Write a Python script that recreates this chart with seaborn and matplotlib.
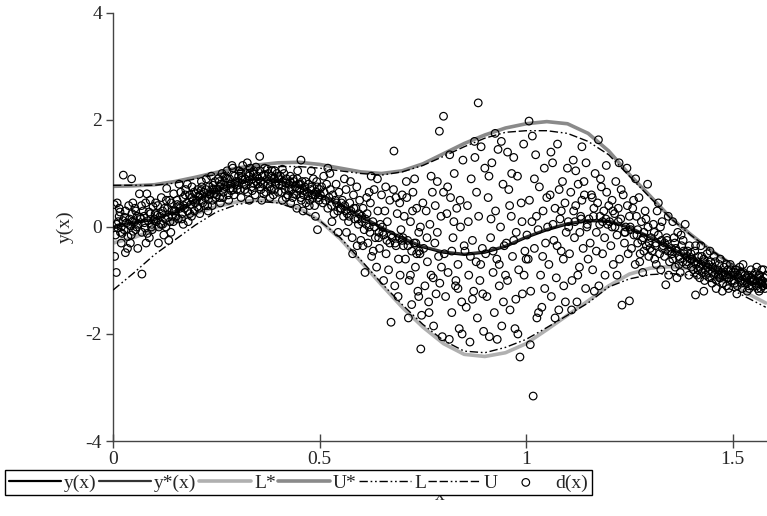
import matplotlib
matplotlib.use("Agg")
import matplotlib.pyplot as plt
import seaborn as sns
import pandas as pd

# ---------------- curve data ----------------
curve_x = [0.0, 0.05, 0.1, 0.15, 0.2, 0.25, 0.3, 0.35, 0.4, 0.45, 0.5, 0.55, 0.6, 0.65,
           0.7, 0.75, 0.8, 0.85, 0.9, 0.95, 1.0, 1.05, 1.1, 1.15, 1.2, 1.25, 1.3, 1.35,
           1.4, 1.45, 1.5, 1.55, 1.58]
y_true = [0.0, 0.08, 0.13, 0.28, 0.48, 0.67, 0.83, 0.9, 0.86, 0.74, 0.6, 0.42, 0.2, -0.02,
          -0.22, -0.38, -0.48, -0.52, -0.48, -0.37, -0.2, -0.06, 0.05, 0.11, 0.1, -0.02, -0.2, -0.4,
          -0.6, -0.77, -0.92, -1.05, -1.12]
y_est = [-0.03, 0.1, 0.15, 0.3, 0.5, 0.69, 0.84, 0.91, 0.87, 0.75, 0.61, 0.43, 0.21, 0.0,
         -0.2, -0.36, -0.46, -0.5, -0.46, -0.35, -0.18, -0.04, 0.07, 0.13, 0.12, 0.0, -0.18, -0.38,
         -0.58, -0.75, -0.9, -1.03, -1.1]
L_star = [-0.3, -0.2, -0.05, 0.1, 0.25, 0.38, 0.47, 0.5, 0.47, 0.35, 0.12, -0.22, -0.65, -1.08,
          -1.5, -1.87, -2.18, -2.38, -2.42, -2.35, -2.18, -1.92, -1.65, -1.38, -1.1, -0.88, -0.77, -0.74,
          -0.78, -0.92, -1.1, -1.3, -1.42]
U_star = [0.76, 0.77, 0.79, 0.85, 0.93, 1.02, 1.1, 1.16, 1.2, 1.21, 1.17, 1.1, 1.03, 1.0,
          1.05, 1.18, 1.37, 1.56, 1.72, 1.85, 1.93, 1.97, 1.93, 1.75, 1.42, 0.98, 0.58, 0.17,
          -0.15, -0.45, -0.71, -0.93, -1.05]
L_bound = [-1.18, -0.86, -0.52, -0.24, 0.04, 0.28, 0.42, 0.48, 0.45, 0.32, 0.12, -0.2, -0.62, -1.05,
           -1.45, -1.82, -2.12, -2.32, -2.35, -2.25, -2.1, -1.88, -1.65, -1.42, -1.12, -0.97, -0.89, -0.87,
           -0.9, -1.02, -1.18, -1.38, -1.5]
U_bound = [0.78, 0.78, 0.78, 0.82, 0.9, 0.98, 1.05, 1.1, 1.13, 1.13, 1.1, 1.05, 1.0, 0.97,
           1.03, 1.15, 1.32, 1.5, 1.66, 1.77, 1.8, 1.8, 1.75, 1.6, 1.35, 0.95, 0.55, 0.16,
           -0.16, -0.45, -0.7, -0.92, -1.04]

# ---------------- scattered observations d(x) ----------------
d_left = [
    (0.003,0.42),(0.006,-0.15),(0.009,0.05),(0.012,-0.02),(0.015,0.2),(0.018,-0.1),(0.02,0.0),(0.024,0.12),
    (0.027,-0.05),(0.03,0.3),(0.033,0.08),(0.036,-0.18),(0.04,0.15),(0.043,0.02),(0.046,0.25),(0.049,-0.08),
    (0.004,-0.55),(0.008,-0.85),(0.025,0.97),(0.045,0.9),(0.035,-0.4),(0.02,-0.3),(0.01,0.45),(0.03,-0.48),
    (0.048,0.45),(0.015,0.35),(0.038,0.4),(0.042,-0.3),
    (0.052,0.1),(0.055,-0.05),(0.058,0.2),(0.061,0.05),(0.064,0.62),(0.067,0.15),(0.07,-0.1),(0.073,0.3),
    (0.076,0.08),(0.079,0.45),(0.082,0.62),(0.085,0.12),(0.088,-0.2),(0.091,0.25),(0.094,0.05),(0.097,0.38),
    (0.06,-0.4),(0.07,-0.88),(0.08,-0.3),(0.09,0.5),(0.055,0.3),(0.075,0.2),(0.095,-0.05),(0.1,0.15),
    (0.102,0.25),(0.105,0.1),(0.108,0.4),(0.111,0.0),(0.114,0.2),(0.117,0.55),(0.12,0.3),(0.123,-0.15),
    (0.126,0.15),(0.129,0.5),(0.132,0.35),(0.135,-0.25),(0.138,0.1),(0.141,0.45),(0.144,0.2),(0.147,0.62),
    (0.11,-0.3),(0.13,0.72),(0.14,-0.1),(0.12,0.05),(0.148,0.3),
    (0.152,0.3),(0.155,0.5),(0.158,0.15),(0.161,0.4),(0.164,0.65),(0.167,0.25),(0.17,0.55),(0.173,0.35),
    (0.176,0.7),(0.179,0.45),(0.182,0.1),(0.185,0.6),(0.188,0.42),(0.191,0.75),(0.194,0.5),(0.197,0.3),
    (0.16,0.8),(0.18,0.8),(0.17,0.05),(0.19,0.2),(0.2,0.62),
    (0.202,0.5),(0.205,0.7),(0.208,0.35),(0.211,0.6),(0.214,0.85),(0.217,0.45),(0.22,0.65),(0.223,0.55),
    (0.226,0.9),(0.229,0.4),(0.232,0.75),(0.235,0.6),(0.238,0.95),(0.241,0.5),(0.244,0.7),(0.247,0.85),
    (0.21,0.25),(0.23,0.3),(0.24,0.4),(0.215,0.75),(0.245,0.62),
    (0.252,0.7),(0.255,0.9),(0.258,0.55),(0.261,0.8),(0.264,1.0),(0.267,0.65),(0.27,0.85),(0.273,0.75),
    (0.276,1.05),(0.279,0.6),(0.282,0.9),(0.285,0.8),(0.288,1.15),(0.291,0.7),(0.294,0.95),(0.297,0.85),
    (0.26,0.45),(0.28,0.5),(0.29,1.1),(0.27,0.95),(0.3,0.7),
    (0.302,0.85),(0.305,1.05),(0.308,0.7),(0.311,0.95),(0.314,1.15),(0.317,0.8),(0.32,0.9),(0.323,1.0),
    (0.326,0.65),(0.329,0.95),(0.332,1.1),(0.335,0.75),(0.338,0.9),(0.341,1.05),(0.344,0.6),(0.347,0.85),
    (0.31,0.55),(0.33,0.5),(0.34,1.0),(0.35,0.8),(0.325,1.2),(0.355,1.32),
    (0.352,0.9),(0.355,1.05),(0.358,0.7),(0.361,0.95),(0.364,0.8),(0.367,1.1),(0.37,0.65),(0.373,0.9),
    (0.376,1.0),(0.379,0.75),(0.382,0.85),(0.385,1.05),(0.388,0.6),(0.391,0.9),(0.394,0.8),(0.397,1.0),
    (0.36,0.5),(0.38,0.55),(0.39,0.7),(0.4,0.95),
    (0.402,0.8),(0.405,0.95),(0.408,0.65),(0.411,0.85),(0.414,1.0),(0.417,0.7),(0.42,0.9),(0.423,0.6),
    (0.426,0.8),(0.429,0.95),(0.432,0.7),(0.435,0.55),(0.438,0.85),(0.441,0.75),(0.444,0.6),(0.447,1.05),
    (0.41,0.5),(0.43,0.45),(0.445,0.35),(0.45,0.8),(0.455,1.25),
    (0.452,0.7),(0.455,0.55),(0.458,0.85),(0.461,0.6),(0.464,0.75),(0.467,0.45),(0.47,0.65),(0.473,0.8),
    (0.476,0.5),(0.479,0.7),(0.482,0.6),(0.485,0.9),(0.488,0.4),(0.491,0.65),(0.494,0.75),(0.497,0.55),
    (0.46,0.3),(0.48,1.05),(0.49,0.2),(0.5,0.7),(0.495,-0.05),
]
d_left_band = [
    (0.013,0.1),(0.022,-0.12),(0.037,0.05),(0.047,0.1),(0.057,0.0),(0.066,0.18),(0.078,-0.02),(0.087,0.28),
    (0.098,0.12),(0.107,0.22),(0.116,0.05),(0.125,0.35),(0.134,0.18),(0.143,0.3),(0.153,0.2),(0.162,0.35),
    (0.171,0.4),(0.181,0.3),(0.19,0.55),(0.199,0.45),(0.207,0.58),(0.216,0.5),(0.225,0.7),(0.233,0.62),
    (0.242,0.78),(0.251,0.6),(0.259,0.75),(0.268,0.72),(0.277,0.9),(0.286,0.68),(0.295,0.8),(0.304,0.95),
    (0.313,0.88),(0.322,0.78),(0.331,1.0),(0.34,0.82),(0.349,0.95),(0.357,0.85),(0.366,0.98),(0.375,0.8),
    (0.384,0.95),(0.393,0.85),(0.401,0.9),(0.409,0.78),(0.418,0.82),(0.427,0.7),(0.436,0.9),(0.445,0.72),
    (0.454,0.8),(0.463,0.68),(0.472,0.58),(0.481,0.75),(0.49,0.6),(0.499,0.5),
    (0.017,0.28),(0.028,0.18),(0.044,-0.15),(0.053,0.35),(0.069,0.4),(0.083,-0.12),(0.093,0.0),(0.103,0.45),
    (0.118,0.25),(0.128,0.0),(0.137,0.5),(0.146,0.1),(0.156,0.42),(0.166,0.15),(0.175,0.6),(0.186,0.25),
    (0.196,0.65),(0.204,0.38),(0.213,0.68),(0.222,0.4),(0.231,0.52),(0.239,0.7),(0.249,0.55),(0.257,0.85),
    (0.266,0.55),(0.274,0.92),(0.283,0.72),(0.293,0.6),(0.301,0.78),(0.31,1.02),(0.319,0.7),(0.328,0.85),
    (0.337,0.68),(0.346,1.12),(0.356,0.75),(0.365,0.62),(0.374,1.08),(0.383,0.7),(0.392,1.05),(0.4,0.65),
    (0.41,1.08),(0.419,0.55),(0.428,0.85),(0.437,0.62),(0.446,0.9),(0.456,0.5),(0.466,0.85),(0.475,0.4),
    (0.484,0.55),(0.493,0.85),
]
d_mid = [
    (0.502,0.6),(0.505,0.75),(0.508,0.45),(0.511,0.65),(0.514,0.5),(0.517,0.8),(0.52,0.35),(0.523,0.55),
    (0.526,0.7),(0.529,0.4),(0.532,0.6),(0.535,0.25),(0.538,0.5),(0.541,0.45),(0.544,0.3),(0.547,0.65),
    (0.51,0.95),(0.525,1.0),(0.53,0.1),(0.54,0.8),(0.545,-0.1),(0.55,0.35),(0.52,1.1),
    (0.552,0.35),(0.555,0.5),(0.558,0.2),(0.561,0.4),(0.564,0.7),(0.567,0.25),(0.57,0.1),(0.573,0.45),
    (0.576,0.3),(0.579,-0.2),(0.582,0.6),(0.585,0.15),(0.588,0.35),(0.591,-0.35),(0.594,0.05),(0.597,0.5),
    (0.56,0.9),(0.575,0.85),(0.58,-0.5),(0.59,0.75),(0.6,-0.25),(0.565,-0.1),(0.595,0.25),
    (0.602,0.2),(0.605,0.35),(0.608,-0.05),(0.611,0.15),(0.614,0.55),(0.617,-0.3),(0.62,0.0),(0.623,0.45),
    (0.626,-0.55),(0.629,0.1),(0.632,0.7),(0.635,-0.2),(0.638,-0.75),(0.641,0.3),(0.644,-0.1),(0.647,0.05),
    (0.61,-0.85),(0.62,0.65),(0.63,-0.45),(0.64,0.9),(0.65,0.6),(0.615,0.25),(0.645,-0.4),(0.605,-0.35),(0.625,0.95),
    (0.652,0.0),(0.655,-0.15),(0.658,0.3),(0.661,-0.5),(0.664,0.1),(0.667,-0.8),(0.67,0.5),(0.673,-1.78),
    (0.676,-0.2),(0.679,0.7),(0.682,-1.1),(0.685,-0.35),(0.688,0.25),(0.691,-0.6),(0.694,0.45),(0.697,-0.05),
    (0.68,1.42),(0.66,0.75),(0.69,-1.3),(0.7,0.6),(0.67,-0.3),(0.695,-0.9),(0.655,-1.0),(0.685,0.55),(0.7,-0.25),
    (0.702,-0.2),(0.705,0.2),(0.708,-0.6),(0.711,0.55),(0.714,-0.35),(0.717,-1.0),(0.72,0.1),(0.723,-1.45),
    (0.726,0.65),(0.729,-0.3),(0.732,-0.75),(0.735,0.35),(0.738,-1.2),(0.741,-0.45),(0.744,0.0),(0.747,-1.65),
    (0.745,-2.28),(0.71,0.85),(0.73,0.9),(0.72,-0.9),(0.74,-0.1),(0.75,0.45),(0.715,-1.7),(0.735,-0.5),
    (0.725,0.3),(0.74,-1.3),
    (0.752,-0.4),(0.755,-1.1),(0.758,0.3),(0.761,-0.65),(0.764,-1.4),(0.767,0.05),(0.77,-0.9),(0.773,0.65),
    (0.776,-1.85),(0.779,-0.3),(0.782,-1.25),(0.785,0.85),(0.788,-0.55),(0.791,-1.05),(0.794,0.2),(0.797,-2.05),
    (0.79,1.79),(0.8,2.07),(0.76,-0.2),(0.775,-0.95),(0.78,0.4),(0.795,-0.75),(0.8,0.65),(0.765,-1.6),
    (0.785,-0.1),(0.77,0.95),
    (0.802,-0.5),(0.805,-1.3),(0.808,0.25),(0.811,-0.85),(0.814,-2.1),(0.817,0.55),(0.82,-1.6),(0.823,-0.2),
    (0.826,1.0),(0.829,-1.1),(0.832,0.35),(0.835,-0.7),(0.838,-1.9),(0.841,0.0),(0.844,-1.4),(0.847,1.25),
    (0.81,0.75),(0.82,-0.45),(0.83,-1.0),(0.84,0.5),(0.85,-0.35),(0.815,1.35),(0.835,-1.15),(0.845,-2.0),(0.825,0.1),
    (0.852,-0.45),(0.855,-1.5),(0.858,0.4),(0.861,-0.9),(0.864,-2.15),(0.867,0.9),(0.87,-0.25),(0.873,-1.2),
    (0.876,1.3),(0.879,-0.65),(0.882,-1.7),(0.884,2.32),(0.885,0.2),(0.888,-1.0),(0.891,1.5),(0.894,-0.4),
    (0.897,-1.95),(0.86,0.1),(0.87,-1.35),(0.88,0.65),(0.89,-0.7),(0.9,1.1),(0.865,-0.55),(0.875,1.6),(0.895,-1.25),
    (0.902,-0.5),(0.905,-1.3),(0.908,0.55),(0.911,-2.05),(0.914,-0.2),(0.917,1.2),(0.92,-0.85),(0.923,-1.6),
    (0.926,0.3),(0.929,-0.6),(0.932,1.45),(0.935,-1.1),(0.938,0.0),(0.941,-1.85),(0.944,0.8),(0.947,-0.35),
    (0.91,0.95),(0.92,-0.45),(0.93,-2.1),(0.94,1.6),(0.95,-0.9),(0.915,0.15),(0.945,-1.4),(0.925,1.75),(0.935,-0.7),
    (0.952,-0.3),(0.955,-1.0),(0.958,0.7),(0.961,-1.55),(0.964,0.2),(0.967,-0.55),(0.97,1.3),(0.973,-1.9),
    (0.976,-0.1),(0.979,0.95),(0.982,-0.8),(0.985,-2.43),(0.988,0.45),(0.991,-1.25),(0.994,1.55),(0.997,-0.45),
    (0.96,0.4),(0.97,-0.25),(0.98,-2.0),(0.99,0.1),(1.0,-0.6),(0.965,1.0),(0.975,-1.35),(0.995,-0.9),(0.955,1.4),
    (1.002,-0.15),(1.005,-0.6),(1.007,1.98),(1.008,0.5),(1.011,-1.2),(1.014,0.1),(1.017,-3.16),(1.02,-0.4),
    (1.023,1.35),(1.026,-1.7),(1.029,-0.05),(1.032,0.75),(1.035,-0.9),(1.038,-1.5),(1.041,0.3),(1.044,1.1),
    (1.047,-0.3),(1.01,-2.2),(1.02,0.9),(1.03,-1.6),(1.04,-0.55),(1.05,0.55),(1.015,1.7),(1.045,-1.15),(1.025,0.2),
    (1.052,0.0),(1.055,-0.7),(1.058,0.6),(1.061,-1.3),(1.064,1.2),(1.067,-0.25),(1.07,0.35),(1.073,-0.95),
    (1.076,1.55),(1.079,-1.55),(1.082,0.15),(1.085,-0.45),(1.088,0.85),(1.091,-1.1),(1.094,0.45),(1.097,-0.1),
    (1.06,1.4),(1.07,-1.7),(1.08,0.7),(1.09,-0.6),(1.1,1.1),(1.065,0.05),(1.075,-0.35),(1.095,-1.4),(1.085,0.3),
    (1.102,0.1),(1.105,-0.5),(1.108,0.65),(1.111,-1.0),(1.114,1.25),(1.117,-0.2),(1.12,0.4),(1.123,-1.4),
    (1.126,0.8),(1.129,-0.75),(1.132,0.2),(1.135,1.5),(1.138,-0.4),(1.141,0.6),(1.144,-1.15),(1.147,0.0),
    (1.11,-1.55),(1.12,1.05),(1.13,-0.1),(1.14,0.85),(1.15,-0.6),(1.115,0.3),(1.145,1.2),(1.125,-0.9),(1.135,0.5),
    (1.152,0.15),(1.155,-0.3),(1.158,0.6),(1.161,-0.8),(1.164,0.35),(1.167,1.0),(1.17,-0.1),(1.173,0.45),
    (1.175,1.63),(1.176,-1.1),(1.179,0.2),(1.182,0.75),(1.185,-0.5),(1.188,0.3),(1.191,-0.9),(1.194,1.15),
    (1.197,0.05),(1.16,0.55),(1.17,-0.45),(1.18,0.9),(1.19,-0.2),(1.2,0.4),(1.165,-1.2),(1.185,0.1),(1.195,0.65),
    (1.202,0.1),(1.205,-0.35),(1.208,0.5),(1.211,-0.7),(1.214,0.25),(1.217,0.85),(1.22,-0.15),(1.223,0.35),
    (1.226,-0.6),(1.229,0.15),(1.232,-1.46),(1.235,0.6),(1.238,-0.3),(1.241,0.0),(1.244,1.1),(1.247,-0.5),
    (1.25,-1.38),(1.21,0.3),(1.22,-0.9),(1.23,0.7),(1.24,-0.1),(1.215,0.0),(1.245,0.4),(1.225,1.2),(1.25,0.2),
]
d_mid_band = [
    (0.553,0.45),(0.563,0.3),(0.572,0.2),(0.583,0.35),(0.593,0.15),(0.603,0.1),(0.613,0.05),(0.622,-0.1),
    (0.633,0.0),(0.643,-0.2),(0.653,-0.1),(0.663,-0.25),(0.673,-0.15),(0.683,-0.3),(0.693,-0.2),(0.703,-0.35),
    (0.713,-0.25),(0.723,-0.45),(0.733,-0.3),(0.743,-0.5),
    (1.103,0.0),(1.118,0.1),(1.133,0.15),(1.148,0.05),(1.163,0.2),(1.178,0.05),(1.193,0.15),(1.208,0.0),
    (1.223,0.1),(1.238,-0.1),(1.253,-0.05),(1.268,-0.15),(1.283,-0.2),(1.298,-0.3),(1.313,-0.35),(1.328,-0.25),
    (1.343,-0.45),
]
d_right = [
    (1.252,0.0),(1.255,-0.4),(1.258,0.35),(1.261,-0.15),(1.264,-0.7),(1.267,0.2),(1.27,-0.3),(1.273,0.55),
    (1.276,-0.5),(1.279,0.1),(1.282,-0.85),(1.285,-0.1),(1.288,0.3),(1.291,-0.35),(1.294,0.8),(1.297,-0.55),
    (1.26,0.5),(1.27,-0.05),(1.28,-0.25),(1.29,0.15),(1.3,-0.4),(1.265,0.9),(1.275,-0.65),(1.295,0.0),(1.285,-0.45),
    (1.302,-0.2),(1.305,-0.45),(1.308,0.05),(1.311,-0.6),(1.314,-0.3),(1.317,0.3),(1.32,-0.15),(1.323,-0.5),
    (1.326,-0.8),(1.329,0.1),(1.332,-0.35),(1.335,-0.55),(1.338,-1.08),(1.341,-0.25),(1.344,0.2),(1.347,-0.65),
    (1.31,-0.1),(1.32,0.45),(1.33,-0.4),(1.34,-0.2),(1.35,-0.45),(1.315,-0.7),(1.345,-0.9),(1.325,0.0),(1.335,-0.3),
    (1.352,-0.4),(1.355,-0.6),(1.358,-0.2),(1.361,-0.75),(1.364,-0.45),(1.367,-0.1),(1.37,-0.55),(1.373,-0.85),
    (1.376,-0.35),(1.379,-0.65),(1.382,-0.5),(1.385,0.05),(1.388,-0.7),(1.391,-0.45),(1.394,-0.9),(1.397,-0.6),
    (1.36,-0.3),(1.37,-0.7),(1.38,-0.25),(1.39,-0.55),(1.4,-0.75),(1.365,-0.95),(1.375,-0.15),(1.395,-0.35),(1.355,0.1),
    (1.402,-0.6),(1.405,-0.8),(1.408,-0.45),(1.411,-0.7),(1.41,-1.27),(1.414,-0.9),(1.417,-0.55),(1.42,-0.75),
    (1.423,-0.35),(1.426,-0.85),(1.429,-0.65),(1.432,-1.0),(1.435,-0.7),(1.438,-0.5),(1.441,-0.85),(1.444,-0.95),
    (1.447,-0.65),(1.41,-0.35),(1.42,-0.95),(1.43,-0.6),(1.44,-0.75),(1.45,-1.05),(1.415,-0.65),(1.425,-0.55),
    (1.435,-0.9),(1.445,-0.45),(1.43,-1.2),
    (1.452,-0.75),(1.455,-0.9),(1.458,-0.65),(1.461,-1.0),(1.464,-0.8),(1.467,-0.7),(1.47,-0.95),(1.473,-0.85),
    (1.476,-1.05),(1.479,-0.75),(1.482,-0.9),(1.485,-1.1),(1.488,-0.8),(1.491,-0.95),(1.494,-0.7),(1.497,-1.0),
    (1.46,-1.15),(1.47,-0.6),(1.48,-0.85),(1.49,-1.15),(1.5,-0.85),(1.455,-0.55),(1.465,-0.9),(1.475,-1.2),
    (1.485,-0.7),(1.495,-0.9),
    (1.502,-0.9),(1.505,-1.05),(1.508,-0.8),(1.511,-1.1),(1.514,-0.95),(1.517,-0.75),(1.52,-1.0),(1.523,-1.15),
    (1.526,-0.85),(1.529,-1.05),(1.532,-0.95),(1.535,-1.2),(1.538,-0.9),(1.541,-1.0),(1.544,-0.8),(1.547,-1.1),
    (1.51,-1.25),(1.52,-0.85),(1.53,-1.0),(1.54,-1.15),(1.55,-0.9),(1.515,-0.95),(1.525,-0.7),(1.535,-1.05),
    (1.545,-0.95),(1.505,-0.85),
    (1.552,-1.0),(1.555,-0.85),(1.558,-1.1),(1.561,-0.95),(1.564,-1.2),(1.567,-1.0),(1.57,-0.8),(1.573,-1.1),
    (1.576,-0.95),(1.579,-1.05),(1.56,-1.15),(1.565,-0.9),(1.57,-1.05),(1.575,-0.8),(1.558,-0.75),(1.568,-1.15),
    (1.353,-0.5),(1.362,-0.4),(1.372,-0.6),(1.381,-0.45),(1.39,-0.65),(1.399,-0.5),(1.407,-0.65),(1.416,-0.8),
    (1.424,-0.7),(1.433,-0.8),(1.442,-0.7),(1.451,-0.85),(1.459,-0.8),(1.468,-0.95),(1.477,-0.9),(1.486,-0.95),
    (1.495,-0.8),(1.503,-1.0),(1.512,-0.9),(1.521,-1.05),(1.53,-0.9),(1.539,-1.1),(1.548,-1.0),(1.556,-1.05),
    (1.563,-0.9),(1.571,-1.0),(1.578,-1.15),(1.582,-0.9),(1.581,-1.08),
]

x_ticks = [0, 0.5, 1, 1.5]
x_tick_labels = ["0", "0.5", "1", "1.5"]
y_ticks = [-4, -2, 0, 2, 4]
y_tick_labels = ["-4", "-2", "0", "2", "4"]

# ---------------- plotting ----------------
sns.set_style("ticks")
plt.rcParams["font.family"] = ["Liberation Serif", "DejaVu Serif"]
plt.rcParams["font.size"] = 14

fig = plt.figure(figsize=(7.67, 5.16), dpi=100)
ax = fig.add_axes([113 / 767, 1 - 441 / 516, 1 - 113 / 767, (441 - 13) / 516])

curves = pd.DataFrame({"x": curve_x, "y": y_true, "ys": y_est, "Ls": L_star,
                       "Us": U_star, "L": L_bound, "U": U_bound})
pts = pd.DataFrame(d_left + d_left_band + d_mid + d_mid_band + d_right, columns=["x", "y"])

sns.lineplot(data=curves, x="x", y="y", ax=ax, color="black", lw=1.6,
             sort=False, estimator=None, label="y(x)", zorder=4)
sns.lineplot(data=curves, x="x", y="ys", ax=ax, color="#333333", lw=1.6,
             sort=False, estimator=None, label="y*(x)", zorder=4)
sns.lineplot(data=curves, x="x", y="Ls", ax=ax, color="#b0b0b0", lw=2.6,
             sort=False, estimator=None, label="L*", zorder=2)
sns.lineplot(data=curves, x="x", y="Us", ax=ax, color="#8a8a8a", lw=2.6,
             sort=False, estimator=None, label="U*", zorder=2)
sns.lineplot(data=curves, x="x", y="L", ax=ax, color="black", lw=1.0,
             sort=False, estimator=None, label="L", zorder=3)
sns.lineplot(data=curves, x="x", y="U", ax=ax, color="black", lw=1.0,
             sort=False, estimator=None, label="U", zorder=3)
lines = ax.get_lines()
lines[4].set_dashes([6, 2, 1.2, 2, 1.2, 2])
lines[5].set_dashes([6, 2, 6, 2, 1.2, 2, 1.2, 2])

sns.scatterplot(data=pts, x="x", y="y", ax=ax, marker="o", s=30, label="d(x)", zorder=5)
coll = ax.collections[-1]
coll.set_facecolor("none")
coll.set_edgecolor("black")
coll.set_linewidth(0.85)

ax.set_xlim(0, 1.583)
ax.set_ylim(-4, 4)
ax.set_xticks(x_ticks)
ax.set_xticklabels(x_tick_labels)
ax.set_yticks(y_ticks)
ax.set_yticklabels(y_tick_labels)
ax.tick_params(axis="x", direction="inout", length=10, width=1, color="#444444", labelsize=14, pad=2)
ax.tick_params(axis="y", direction="out", length=5, width=1, color="#444444", labelsize=14, pad=3)
for s in ["top", "right"]:
    ax.spines[s].set_visible(False)
for s in ["left", "bottom"]:
    ax.spines[s].set_color("#444444")
    ax.spines[s].set_linewidth(1.0)
ax.set_ylabel("y(x)", fontsize=14, labelpad=8)
ax.set_xlabel("x", fontsize=14, labelpad=14)

handles, labels = ax.get_legend_handles_labels()
leg = ax.legend(handles, labels, ncol=7, loc="upper left",
                bbox_to_anchor=(5 / 767, 1 - 470 / 516), bbox_transform=fig.transFigure,
                frameon=True, fancybox=False, edgecolor="black", framealpha=1,
                fontsize=14, handlelength=2.7, handletextpad=0.15, columnspacing=0.1,
                borderpad=0.2, borderaxespad=0)
leg.get_frame().set_linewidth(1.0)
leg.set_zorder(10)

fig.savefig("out.png", dpi=100)
